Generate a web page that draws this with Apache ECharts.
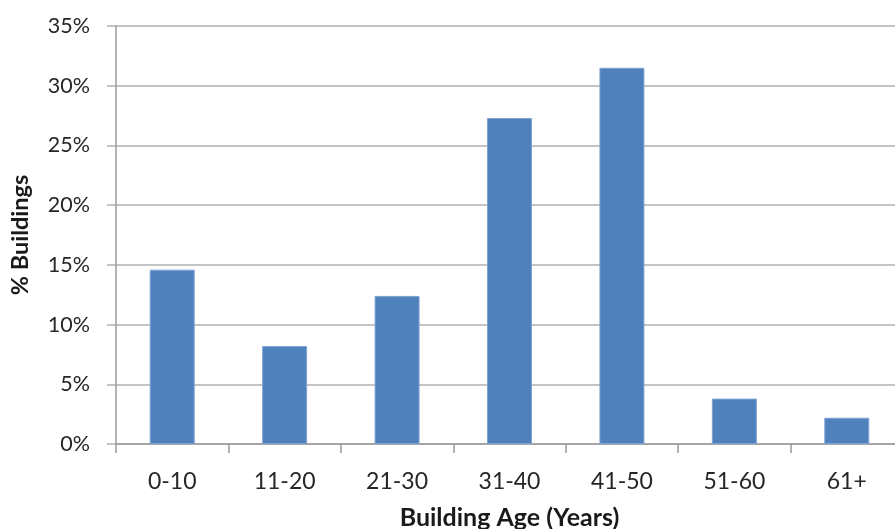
<!DOCTYPE html>
<html>
<head>
<meta charset="utf-8">
<script src="https://cdn.jsdelivr.net/npm/echarts@6/dist/echarts.min.js"></script>
<style>
  html, body { margin: 0; padding: 0; background: #ffffff; overflow: hidden; }
  #chart { width: 895px; height: 529px; }
</style>
</head>
<body>
<div id="chart"></div>
<script>
// Share of buildings by age band
const ageBands = ['0-10', '11-20', '21-30', '31-40', '41-50', '51-60', '61+'];
const sharePct = [14.6, 8.2, 12.4, 27.3, 31.5, 3.8, 2.2];
const yTicks = { min: 0, max: 35, step: 5 };

const FONT = 'Lato, "Open Sans", sans-serif';

const chart = echarts.init(document.getElementById('chart'), null, { renderer: 'canvas', width: 895, height: 529 });
chart.setOption({
  animation: false,
  backgroundColor: '#ffffff',
  // the plot runs slightly past the right edge of the canvas, so keep the grid box as given
  grid: { left: 116, top: 26, width: 787, height: 418, containLabel: false, outerBoundsMode: 'none' },
  xAxis: {
    type: 'category',
    data: ageBands,
    name: 'Building Age (Years)',
    nameLocation: 'middle',
    nameGap: 61,
    nameTextStyle: { fontFamily: FONT, fontWeight: 'bold', fontSize: 25, color: '#1a1a1a' },
    axisLine: { show: true, lineStyle: { color: '#9a9a9a', width: 1.5 } },
    axisTick: { show: true, alignWithLabel: false, length: 9, lineStyle: { color: '#9a9a9a', width: 1.5 } },
    axisLabel: { fontFamily: FONT, fontSize: 23, color: '#262626', margin: 26 },
    splitLine: { show: false }
  },
  yAxis: {
    type: 'value',
    min: yTicks.min,
    max: yTicks.max,
    interval: yTicks.step,
    name: '% Buildings',
    nameLocation: 'middle',
    nameGap: 84,
    nameRotate: 90,
    nameTextStyle: { fontFamily: FONT, fontWeight: 'bold', fontSize: 23.5, color: '#1a1a1a' },
    axisLine: { show: true, lineStyle: { color: '#9a9a9a', width: 1.5 } },
    axisTick: { show: true, length: 9, lineStyle: { color: '#b0b0b0', width: 1.5 } },
    axisLabel: { fontFamily: FONT, fontSize: 21.5, color: '#262626', margin: 26, formatter: v => v + '%' },
    splitLine: { show: true, lineStyle: { color: '#b0b0b0', width: 1.5 } }
  },
  series: [{
    type: 'bar',
    data: sharePct,
    barWidth: '40%',
    itemStyle: { color: '#4f81bd', borderColor: '#7ea2d2', borderWidth: 1 }
  }]
});
</script>
</body>
</html>
